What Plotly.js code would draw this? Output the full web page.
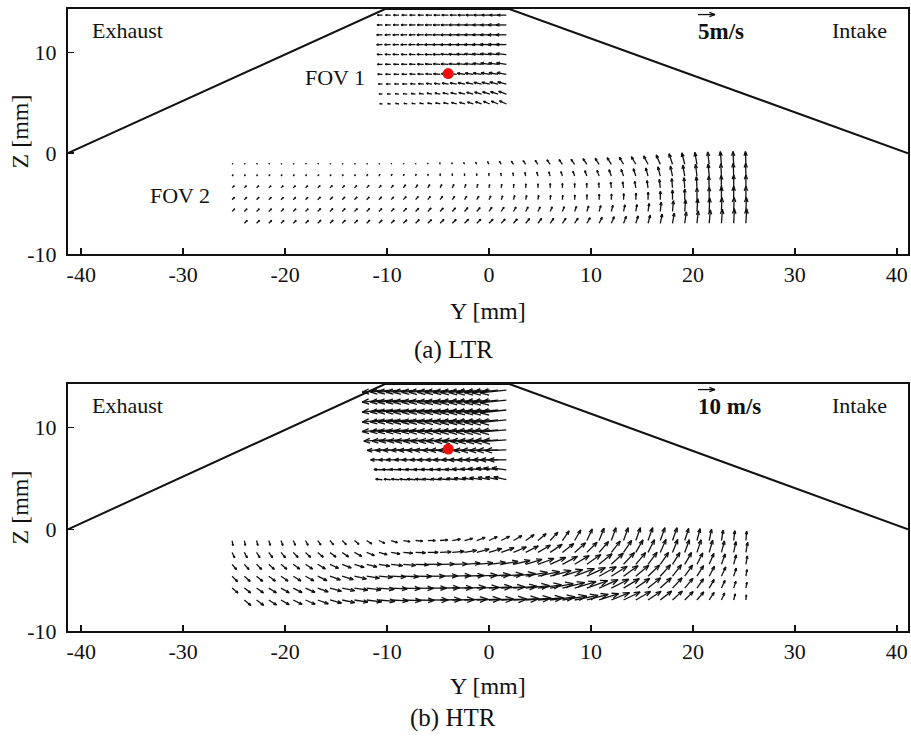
<!DOCTYPE html>
<html><head><meta charset="utf-8">
<script src="https://cdn.plot.ly/plotly-3.0.1.min.js"></script>
<style>html,body{margin:0;padding:0;background:#fff}#chart{width:911px;height:738px}</style>
</head><body><div id="chart"></div>
<script>
// ---- geometry (mm) ----
const roofY = [-41.3, -10.2, 2.0, 41.1];
const roofZ = [0, 14.3, 14.3, 0];
const sparkY = [-4.0];
const sparkZ = [7.9];
const xTicks = [-40, -30, -20, -10, 0, 10, 20, 30, 40];
const xTickText = ['-40', '-30', '-20', '-10', '0', '10', '20', '30', '40'];
const yTicks = [-10, 0, 10];
const yTickText = ['-10', '0', '10'];

// ---- FOV 1 grid ----
const fov1Y = [-10.45,-9.64,-8.83,-8.02,-7.21,-6.40,-5.59,-4.78,-3.97,-3.16,-2.35,-1.54,-0.73,0.08,0.89,1.70];
const fov1Z = [13.7,12.72,11.74,10.76,9.78,8.8,7.82,6.84,5.86,4.88];
// ---- FOV 2 grid ----
const fov2Y = [-25.2,-24.0,-22.8,-21.6,-20.4,-19.2,-18.0,-16.8,-15.6,-14.4,-13.2,-12.0,-10.8,-9.6,-8.4,-7.2,-6.0,-4.8,-3.6,-2.4,-1.2,0,1.2,2.4,3.6,4.8,6.0,7.2,8.4,9.6,10.8,12.0,13.2,14.4,15.6,16.8,18.0,19.2,20.4,21.6,22.8,24.0,25.2];
const fov2Z = [-1.1,-2.27,-3.44,-4.61,-5.78,-6.95];

// ---- LTR, FOV 1: speed (m/s) and direction (deg) ----
const ltrFov1Speed = [
 [1.5,1.5,1.6,1.6,1.7,1.7,1.8,1.9,2.0,2.0,2.1,2.2,2.3,2.4,2.5,2.6],
 [1.6,1.6,1.7,1.8,1.8,1.9,2.0,2.1,2.2,2.3,2.4,2.5,2.6,2.7,2.9,3.0],
 [1.7,1.7,1.8,1.9,1.9,2.0,2.1,2.2,2.3,2.4,2.5,2.6,2.7,2.8,3.0,3.1],
 [1.7,1.8,1.8,1.9,2.0,2.1,2.2,2.3,2.4,2.5,2.6,2.7,2.8,2.9,3.0,3.1],
 [1.6,1.7,1.8,1.8,1.9,2.0,2.1,2.2,2.3,2.4,2.5,2.6,2.7,2.8,2.9,3.0],
 [1.5,1.6,1.6,1.7,1.8,1.9,2.0,2.1,2.2,2.3,2.4,2.5,2.6,2.7,2.8,2.9],
 [1.4,1.5,1.5,1.6,1.7,1.8,1.9,2.0,2.1,2.2,2.3,2.4,2.5,2.6,2.7,2.8],
 [1.2,1.3,1.3,1.4,1.5,1.6,1.7,1.8,1.9,2.0,2.1,2.2,2.3,2.4,2.5,2.6],
 [1.0,1.0,1.1,1.2,1.3,1.4,1.5,1.6,1.7,1.8,1.9,2.0,2.1,2.2,2.3,2.4],
 [0.8,0.9,1.0,1.0,1.1,1.2,1.3,1.4,1.5,1.6,1.7,1.8,1.9,2.0,2.1,2.2]
];
const ltrFov1Angle = [
 [181,181,181,181,181,181,181,181,181,181,181,181,181,181,181,181],
 [180,180,180,180,180,180,180,180,180,180,180,180,180,180,180,180],
 [180,180,180,180,180,180,180,180,180,180,180,180,180,180,180,180],
 [179,179,179,179,179,179,179,179,179,179,179,179,179,179,179,179],
 [178,178,178,178,178,178,178,178,177,177,177,176,176,175,175,174],
 [178,178,178,177,177,177,176,176,175,175,174,174,173,172,172,171],
 [178,178,177,177,176,176,175,175,174,173,172,172,171,170,170,169],
 [176,176,175,175,174,173,172,171,170,169,168,167,166,166,165,165],
 [175,175,174,173,172,171,170,169,168,167,166,165,164,163,162,160],
 [172,172,171,170,169,168,167,166,165,164,163,162,160,158,157,155]
];

// ---- LTR, FOV 2 ----
const ltrFov2Speed = [
 [0.3,0.3,0.3,0.3,0.3,0.3,0.3,0.3,0.3,0.3,0.3,0.3,0.3,0.3,0.3,0.3,0.4,0.5,0.5,0.6,0.7,0.9,1.0,1.1,1.3,1.4,1.6,1.7,1.8,2.0,2.1,2.3,2.4,2.6,2.8,3.0,3.3,3.5,3.6,3.7,3.8,3.8,3.8],
 [0.5,0.5,0.5,0.5,0.5,0.5,0.5,0.5,0.5,0.5,0.5,0.6,0.6,0.6,0.6,0.6,0.6,0.7,0.7,0.7,0.7,0.8,0.9,1.0,1.1,1.2,1.3,1.4,1.5,1.7,1.8,2.0,2.1,2.3,2.5,2.8,3.0,3.3,3.5,3.6,3.7,3.8,3.8],
 [0.9,0.9,0.9,0.9,0.9,0.9,0.9,1.0,1.0,1.0,1.0,1.0,1.0,1.0,1.1,1.1,1.1,1.1,1.1,1.1,1.1,1.0,1.1,1.1,1.2,1.2,1.3,1.3,1.3,1.4,1.5,1.7,1.8,2.0,2.2,2.5,2.8,3.0,3.3,3.5,3.7,3.8,3.8],
 [1.0,1.0,1.0,1.0,1.0,1.0,1.0,1.1,1.1,1.1,1.1,1.1,1.1,1.1,1.2,1.2,1.2,1.2,1.2,1.2,1.2,1.2,1.2,1.3,1.3,1.3,1.3,1.3,1.4,1.5,1.6,1.7,1.8,1.9,2.2,2.5,2.9,3.2,3.5,3.7,3.9,4.0,4.0],
 [1.1,1.1,1.1,1.1,1.1,1.1,1.1,1.2,1.2,1.2,1.2,1.2,1.2,1.2,1.3,1.3,1.4,1.4,1.4,1.5,1.5,1.5,1.5,1.5,1.5,1.5,1.5,1.5,1.6,1.7,1.8,1.9,2.0,2.1,2.4,2.8,3.2,3.5,3.8,4.0,4.1,4.2,4.2],
 [null,1.2,1.2,1.2,1.2,1.2,1.2,1.3,1.3,1.3,1.3,1.3,1.3,1.3,1.4,1.5,1.5,1.6,1.6,1.7,1.7,1.7,1.7,1.7,1.8,1.8,1.8,1.8,1.8,1.9,2.0,2.1,2.2,2.3,2.5,2.8,3.1,3.4,3.7,4.0,4.2,4.3,4.3]
];
const ltrFov2Angle = [
 [45,45,45,45,45,45,45,45,45,45,45,45,45,60,70,80,90,100,110,115,120,120,122,124,125,125,125,125,125,124,123,122,121,120,117,113,108,104,100,97,95,93,92],
 [55,55,55,55,55,55,55,55,55,55,55,60,62,65,70,75,80,85,88,90,92,95,98,100,103,105,107,108,110,110,110,110,110,108,106,104,102,100,97,95,93,92,91],
 [45,45,45,45,45,45,45,45,45,45,45,48,50,52,55,57,60,63,66,70,75,80,83,85,87,88,89,90,90,92,95,97,99,100,98,96,95,94,93,92,91,90,90],
 [45,45,45,45,45,45,45,45,45,45,45,45,45,47,48,50,52,54,56,58,60,65,70,74,78,81,84,86,87,88,88,88,88,88,89,89,90,90,90,90,90,90,90],
 [45,45,45,45,45,45,45,45,45,45,45,45,45,45,45,46,47,48,49,50,50,55,57,60,62,64,66,68,70,72,74,76,78,80,82,84,85,86,87,88,88,88,88],
 [null,45,45,45,45,45,45,45,45,45,45,45,45,45,45,45,45,45,45,45,45,45,47,49,51,53,55,56,57,60,63,66,69,72,75,78,80,82,84,85,86,87,87]
];

// ---- HTR, FOV 1 ----
const htrFov1Speed = [
 [12,12,12.5,12.5,13,13,13.5,13.5,14,14,14.5,14.5,15,15,15.5,15.5],
 [12,12,12.5,12.5,13,13,13.5,13.5,14,14,14.5,14.5,15,15,15.5,15.5],
 [12,12,12.5,12.5,13,13,13.5,13.5,14,14,14.5,14.5,15,15,15.5,15.5],
 [12,12,12.5,12.5,13,13,13.5,13.5,14,14,14.5,14.5,15,15,15.5,15.5],
 [12,12,12.5,12.5,13,13,13.5,13.5,14,14,14.5,14.5,15,15,15.5,15.5],
 [11,11,11.5,11.5,12,12,12.5,12.5,13,13,13.5,13.5,14,14,14.5,14.5],
 [9,9,9.5,9.5,10,10,10.5,10.5,11,11,11.5,11.5,12,12,12.5,12.5],
 [7,7,7.5,7.5,8,8,8.5,8.5,9,9,9.5,9.5,10,10,10.5,10.5],
 [5,5,5.5,5.5,6,6,6.5,6.5,7,7,7.5,7.5,8,8,8.5,8.5],
 [4,4,4.5,4.5,5,5,5.5,5.5,6,6,6.5,6.5,7,7,7.5,7.5]
];
const htrFov1Angle = [
 [186,186,186,186,186,186,186,186,186,186,186,186,186,186,186,186],
 [186,186,186,186,186,186,186,186,186,186,186,186,186,186,186,186],
 [186,186,186,186,186,186,186,186,186,186,186,186,186,186,186,186],
 [186,186,186,186,186,186,186,186,186,186,186,186,186,186,186,186],
 [185,185,185,185,185,185,185,185,185,185,185,185,185,185,185,185],
 [184,184,184,184,184,184,184,184,184,184,184,184,184,184,184,184],
 [182,182,182,182,182,182,182,182,182,182,182,182,182,182,182,182],
 [180,180,180,180,180,180,180,180,180,180,180,180,180,180,180,180],
 [178,178,178,178,178,178,178,178,178,178,177,176,175,174,173,172],
 [175,175,175,175,175,175,175,175,174,173,172,171,170,169,168,167]
];

// ---- HTR, FOV 2 ----
const htrFov2Speed = [
 [3.0,3.0,3.0,3.0,3.1,3.1,3.2,3.2,3.3,3.4,3.5,3.6,3.8,3.9,4.0,4.2,4.4,4.6,4.8,5.0,5.2,5.3,5.5,5.7,6.0,6.3,6.6,6.9,7.2,7.5,7.8,8.0,8.0,8.0,8.0,8.0,8.0,7.5,7.2,6.8,6.2,5.8,5.5],
 [3.5,3.6,3.7,3.8,4.0,4.1,4.2,4.3,4.5,4.6,4.8,4.9,5.0,5.3,5.5,5.8,6.0,6.5,7.0,7.2,7.5,7.8,8.0,8.2,8.3,8.5,8.5,8.5,8.5,8.5,8.5,8.5,8.5,8.5,8.4,8.3,8.2,8.0,7.8,7.5,7.0,6.5,6.0],
 [4.0,4.1,4.2,4.4,4.5,4.7,5.0,5.2,5.5,5.7,6.0,6.2,6.5,6.8,7.2,7.6,8.0,8.4,8.8,9.2,9.5,9.8,10,10,10,10,10,10,10,10,9.8,9.6,9.4,9.0,8.8,8.5,8.2,8.0,7.5,7.0,6.5,5.8,5.0],
 [4.5,4.6,4.7,4.8,5.0,5.3,5.6,6.0,6.5,6.8,7.2,7.6,8.0,8.5,9.0,9.5,10,10.5,11,11.5,12,12.5,13,13,13,13,12.8,12.6,12.4,12,11.5,11,10.5,10,9.5,9.0,8.5,8.0,7.3,6.6,6.0,5.0,4.0],
 [4.5,4.7,4.9,5.2,5.5,5.8,6.1,6.5,7.0,7.5,8.0,8.5,9.0,9.5,10,10.5,11,11.5,12,12.5,13,13.5,14,14,14,14,13.8,13.5,13.2,13,12.2,11.5,10.8,10,9.5,8.8,8.2,7.5,6.7,5.8,5.0,4.2,3.5],
 [null,5.0,5.2,5.4,5.5,5.8,6.2,6.6,7.0,7.5,8.0,8.8,9.5,10,10.5,11,12,12.5,13,13.5,14,14.5,15,15,15,15,14.8,14.5,14,13,12.2,11.5,10.8,10,9.2,8.5,7.8,7.0,6.2,5.3,4.5,3.7,3.0]
];
const htrFov2Angle = [
 [-80,-78,-75,-72,-70,-66,-62,-55,-50,-45,-40,-33,-25,-18,-10,-5,0,5,10,15,20,25,27,30,35,40,47,55,60,65,68,70,70,70,70,70,70,72,75,78,80,83,85],
 [-65,-62,-58,-54,-50,-47,-44,-41,-38,-35,-28,-22,-15,-10,-5,-2,0,3,5,10,15,17,20,23,27,30,34,38,41,45,49,52,56,60,63,66,68,70,72,74,75,78,80],
 [-50,-48,-45,-43,-40,-37,-34,-31,-25,-22,-18,-14,-10,-7,-5,-2,0,1,2,4,5,7,10,13,17,20,24,28,31,35,39,43,47,50,53,55,58,60,63,67,70,75,80],
 [-45,-42,-40,-37,-35,-32,-29,-26,-20,-17,-13,-9,-5,-3,-2,-1,0,1,2,2,3,4,5,7,10,12,15,18,21,25,29,32,36,40,44,48,52,55,58,62,65,72,80],
 [-40,-37,-35,-32,-30,-27,-24,-20,-15,-12,-9,-7,-5,-3,-2,-1,0,1,1,2,2,3,3,4,6,8,11,14,17,20,24,27,31,35,39,43,47,50,55,60,65,72,80],
 [null,-40,-37,-33,-30,-27,-24,-20,-15,-12,-9,-7,-5,-3,-2,-1,0,1,1,2,2,2,2,3,4,5,7,9,11,15,18,22,26,30,34,38,42,45,50,57,65,75,85]
];

// reference vectors (m/s)
const refSpeed = [5, 10];
const refLabel = ['5m/s', '10 m/s'];
const panelLabel = ['(a) LTR', '(b) HTR'];
// mm of arrow per m/s in each panel
const mmPerMs = [1/3, 1/6];

// ---- build arrow segments ----
function addArrows(xs, ys, gY, gZ, spd, ang, k) {
  for (let r = 0; r < gZ.length; r++) {
    for (let c = 0; c < gY.length; c++) {
      const s = spd[r][c];
      if (s == null) continue;
      const a = ang[r][c] * Math.PI / 180;
      const u = s * Math.cos(a) * k, v = s * Math.sin(a) * k;
      const x0 = gY[c], y0 = gZ[r], x1 = x0 + u, y1 = y0 + v;
      const al = 0.33, be = 0.38;
      xs.push(x0, x1, null);
      ys.push(y0, y1, null);
      xs.push(x1 - al * (u + be * v), x1, x1 - al * (u - be * v), null);
      ys.push(y1 - al * (v - be * u), y1, y1 - al * (v + be * u), null);
    }
  }
}

const serif = 'Liberation Serif, Times New Roman, serif';
const ink = '#111';
const traces = [];
const annotations = [];
const layout = {
  width: 911, height: 738,
  margin: {l: 0, r: 0, t: 0, b: 0},
  paper_bgcolor: '#fff', plot_bgcolor: '#fff',
  showlegend: false,
  font: {family: serif, color: ink, size: 22},
  annotations: annotations
};
const domainsY = [[0.6558, 0.9878], [0.1450, 0.4797]];
const sets = [
  {f1s: ltrFov1Speed, f1a: ltrFov1Angle, f2s: ltrFov2Speed, f2a: ltrFov2Angle},
  {f1s: htrFov1Speed, f1a: htrFov1Angle, f2s: htrFov2Speed, f2a: htrFov2Angle}
];
const titleY = [[311, 350], [686, 718]];

for (let p = 0; p < 2; p++) {
  const xa = p === 0 ? 'x' : 'x2', ya = p === 0 ? 'y' : 'y2';
  const axSuffix = p === 0 ? '' : '2';
  const axCommon = {
    showgrid: false, zeroline: false, showline: true, mirror: true,
    linecolor: ink, linewidth: 2, ticks: 'inside', ticklen: 6, tickwidth: 1.5, tickcolor: ink,
    tickfont: {family: serif, size: 22, color: ink}, fixedrange: true, tickmode: 'array'
  };
  layout['xaxis' + axSuffix] = Object.assign({}, axCommon, {
    domain: [0.0746, 0.9967], range: [-41.3, 41.1], tickvals: xTicks, ticktext: xTickText, anchor: ya
  });
  layout['yaxis' + axSuffix] = Object.assign({}, axCommon, {
    domain: domainsY[p], range: [-10, 14.3], tickvals: yTicks, ticktext: yTickText, anchor: xa,
    ticklabelstandoff: 5
  });

  // roof
  traces.push({x: roofY, y: roofZ, xaxis: xa, yaxis: ya, mode: 'lines',
    line: {color: ink, width: 2}, hoverinfo: 'skip'});

  // arrows
  const xs = [], ys = [];
  const S = sets[p];
  addArrows(xs, ys, fov1Y, fov1Z, S.f1s, S.f1a, mmPerMs[p]);
  addArrows(xs, ys, fov2Y, fov2Z, S.f2s, S.f2a, mmPerMs[p]);
  // reference arrow
  addArrows(xs, ys, [20.5], [13.75], [[refSpeed[p]]], [[0]], mmPerMs[p]);
  traces.push({x: xs, y: ys, xaxis: xa, yaxis: ya, mode: 'lines',
    line: {color: '#111', width: 1.3}, hoverinfo: 'skip'});

  // spark plug marker
  traces.push({x: sparkY, y: sparkZ, xaxis: xa, yaxis: ya, mode: 'markers',
    marker: {color: '#f20d0d', size: 11}, hoverinfo: 'skip'});

  const c = {showarrow: false, xanchor: 'center', yanchor: 'middle'};
  // in-plot labels
  annotations.push(Object.assign({}, c, {x: -35.45, y: 12.2, xref: xa, yref: ya, text: 'Exhaust', font: {size: 22}}));
  annotations.push(Object.assign({}, c, {x: 36.3, y: 12.2, xref: xa, yref: ya, text: 'Intake', font: {size: 22}}));
  annotations.push(Object.assign({}, c, {x: 20.35, y: 12.1, xref: xa, yref: ya, xanchor: 'left', text: '<b>' + refLabel[p] + '</b>', font: {size: 23}}));
  if (p === 0) {
    annotations.push(Object.assign({}, c, {x: -15.1, y: 7.5, xref: xa, yref: ya, text: 'FOV 1', font: {size: 22}}));
    annotations.push(Object.assign({}, c, {x: -30.3, y: -4.2, xref: xa, yref: ya, text: 'FOV 2', font: {size: 22}}));
  }
  // axis titles and caption
  const top = p === 0 ? 9 : 384, bot = p === 0 ? 254 : 631;
  annotations.push(Object.assign({}, c, {x: 19 / 911, y: 1 - ((top + bot) / 2) / 738, xref: 'paper', yref: 'paper', text: 'Z [mm]', textangle: -90, font: {size: 24}}));
  annotations.push(Object.assign({}, c, {x: 488 / 911, y: 1 - titleY[p][0] / 738, xref: 'paper', yref: 'paper', text: 'Y [mm]', font: {size: 24}}));
  annotations.push(Object.assign({}, c, {x: 453 / 911, y: 1 - titleY[p][1] / 738, xref: 'paper', yref: 'paper', text: panelLabel[p], font: {size: 25}}));
}

Plotly.newPlot('chart', traces, layout, {staticPlot: true, displayModeBar: false});
</script>
</body></html>
